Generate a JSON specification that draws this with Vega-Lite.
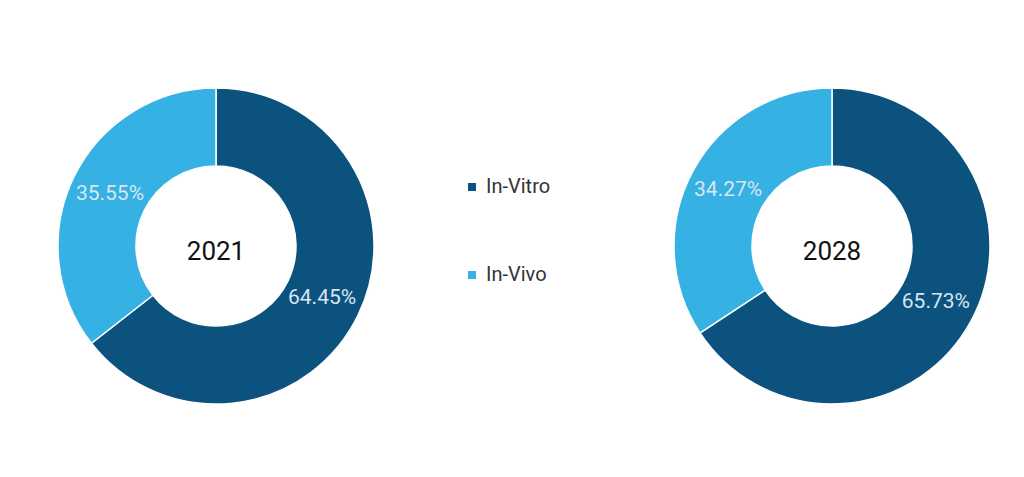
{
  "$schema": "https://vega.github.io/schema/vega-lite/v6.json",
  "padding": {"left": 24, "top": 16, "right": 0, "bottom": 0},
  "background": "white",
  "data": {"values": [
    {"year": "2021", "type": "In-Vitro", "value": 64.45, "label": "64.45%", "order": 1},
    {"year": "2021", "type": "In-Vivo", "value": 35.55, "label": "35.55%", "order": 2},
    {"year": "2028", "type": "In-Vitro", "value": 65.73, "label": "65.73%", "order": 1},
    {"year": "2028", "type": "In-Vivo", "value": 34.27, "label": "34.27%", "order": 2}
  ]},
  "facet": {"column": {"field": "year", "type": "nominal", "header": {"title": null, "labels": false}}},
  "spacing": 232,
  "spec": {
    "width": 384,
    "height": 460,
    "layer": [
      {
        "mark": {"type": "arc", "outerRadius": 158, "innerRadius": 80, "stroke": "white", "strokeWidth": 1.5},
        "encoding": {
          "theta": {"field": "value", "type": "quantitative", "stack": true},
          "order": {"field": "order", "type": "quantitative"},
          "color": {
            "field": "type", "type": "nominal",
            "scale": {"domain": ["In-Vitro", "In-Vivo"], "range": ["#0b527f", "#35b1e4"]},
            "legend": {
              "title": null, "orient": "none", "legendX": 438, "legendY": 161,
              "symbolType": "square", "symbolSize": 64, "symbolStrokeWidth": 0,
              "labelFontSize": 20, "labelFont": "Roboto", "labelColor": "#333333",
              "labelOffset": 4, "rowPadding": 68
            }
          }
        }
      },
      {
        "mark": {"type": "text", "radius": 118, "fontSize": 21, "font": "Roboto", "fill": "#d9e6f0"},
        "encoding": {
          "theta": {"field": "value", "type": "quantitative", "stack": true},
          "order": {"field": "order", "type": "quantitative"},
          "text": {"field": "label", "type": "nominal"}
        }
      },
      {
        "transform": [{"filter": "datum.order == 1"}],
        "mark": {"type": "text", "fontSize": 26, "font": "Roboto", "fill": "#111111", "dy": 6},
        "encoding": {"text": {"field": "year", "type": "nominal"}}
      }
    ]
  },
  "config": {"view": {"stroke": null}}
}
